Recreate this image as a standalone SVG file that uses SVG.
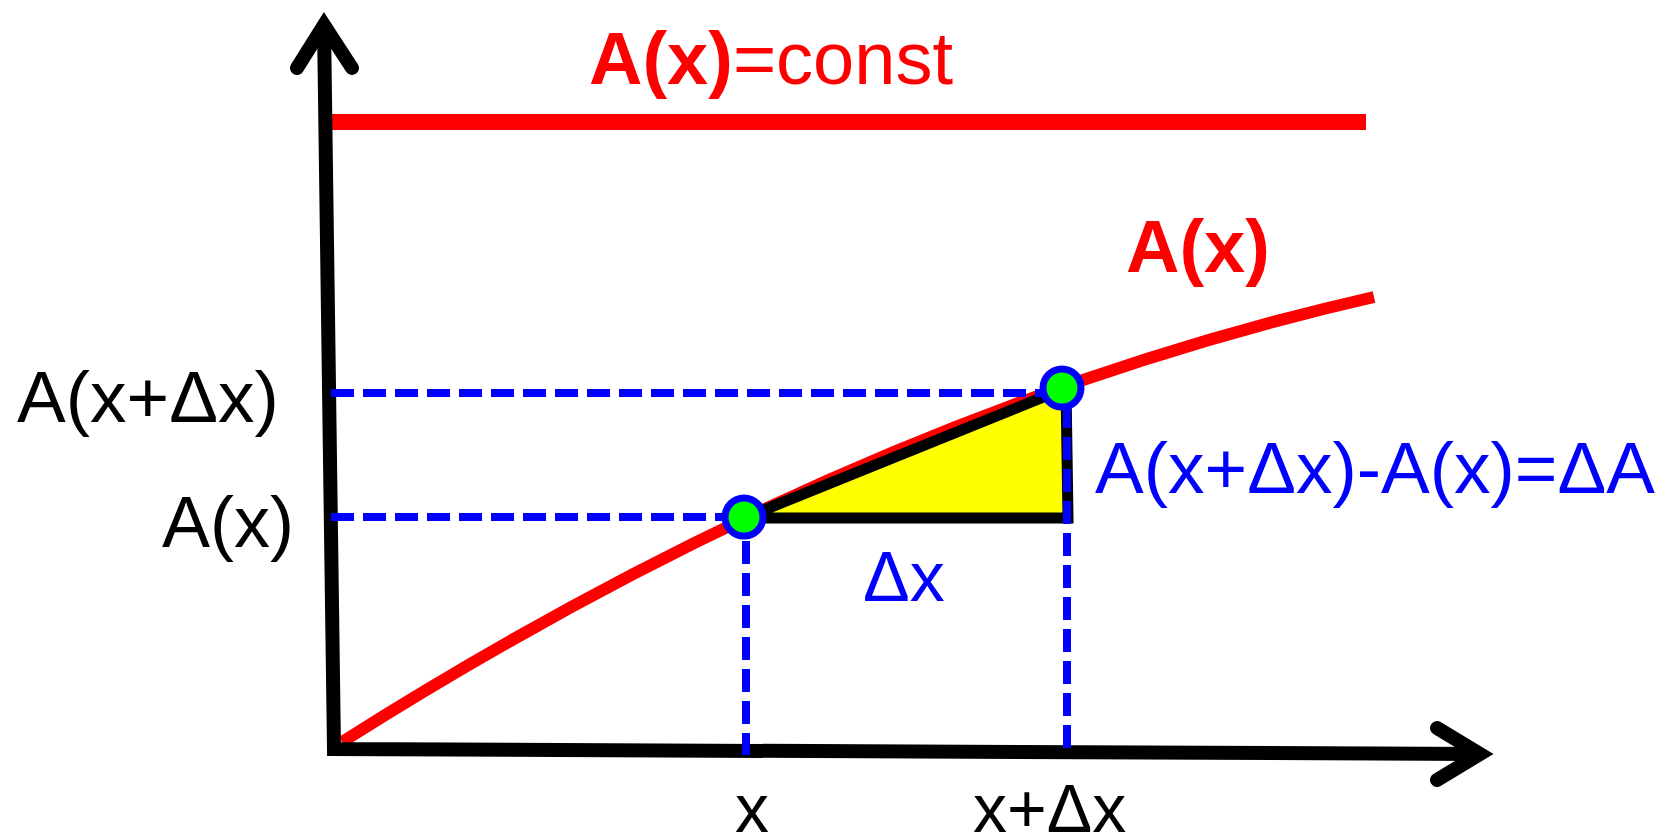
<svg xmlns="http://www.w3.org/2000/svg" width="1664" height="837" viewBox="0 0 1664 837">
<style>
text{font-family:"Liberation Sans",Arial,sans-serif}
.red{fill:#ff0000}
.blk{fill:#000000}
.blu{fill:#0000ff}
.dash{stroke:#0000ff;stroke-width:8;stroke-dasharray:23 9;fill:none}
.axis{stroke:#000;stroke-width:14;fill:none;stroke-linejoin:miter}
.head{stroke:#000;stroke-width:14;fill:none;stroke-linejoin:miter;stroke-linecap:round}
.dot{fill:#00ff00;stroke:#0000ff;stroke-width:7}
</style>
<rect width="1664" height="837" fill="#ffffff"/>
<g id="const-line">
<line x1="331" y1="122" x2="1366" y2="122" stroke="#ff0000" stroke-width="16"/>
</g>
<g id="curve">
<path d="M342,742 Q860,414 1374,297" stroke="#ff0000" stroke-width="12" fill="none"/>
</g>
<g id="triangle">
<polygon points="744,518 1066,388 1068,518" fill="#ffff00" stroke="#000" stroke-width="11" stroke-linejoin="miter"/>
</g>
<g id="axes">
<polyline class="axis" points="324,25 334,749 1480,754"/>
<polyline class="head" points="297,68 324,25 352,68"/>
<polyline class="head" points="1437,728 1480,754 1437,780"/>
</g>
<g id="connectors">
<line class="dash" x1="331" y1="393" x2="1045" y2="393"/>
<line class="dash" x1="331" y1="517" x2="728" y2="517"/>
<line class="dash" x1="746" y1="541" x2="746" y2="755"/>
<line class="dash" x1="1067" y1="405" x2="1067" y2="755"/>
</g>
<g id="point-x">
<circle class="dot" cx="744" cy="517" r="19"/>
</g>
<g id="point-xdx">
<circle class="dot" cx="1062" cy="388" r="19"/>
</g>
<g id="label-const">
<text x="589" y="84" font-size="74" class="red"><tspan font-weight="bold">A(x)</tspan>=const</text>
</g>
<g id="label-curve">
<text x="1126" y="272" font-size="74" font-weight="bold" class="red">A(x)</text>
</g>
<g id="label-axdx">
<text x="17" y="422" font-size="73" class="blk">A(x+Δx)</text>
</g>
<g id="label-ax">
<text x="162" y="547" font-size="72" class="blk">A(x)</text>
</g>
<g id="label-da">
<text x="1095" y="493" font-size="73" class="blu">A(x+Δx)-A(x)=ΔA</text>
</g>
<g id="label-dx">
<text x="863" y="601" font-size="70" class="blu">Δx</text>
</g>
<g id="label-x">
<text x="735" y="832" font-size="68" class="blk">x</text>
</g>
<g id="label-xdx">
<text x="973" y="832" font-size="68" class="blk">x+Δx</text>
</g>
</svg>
